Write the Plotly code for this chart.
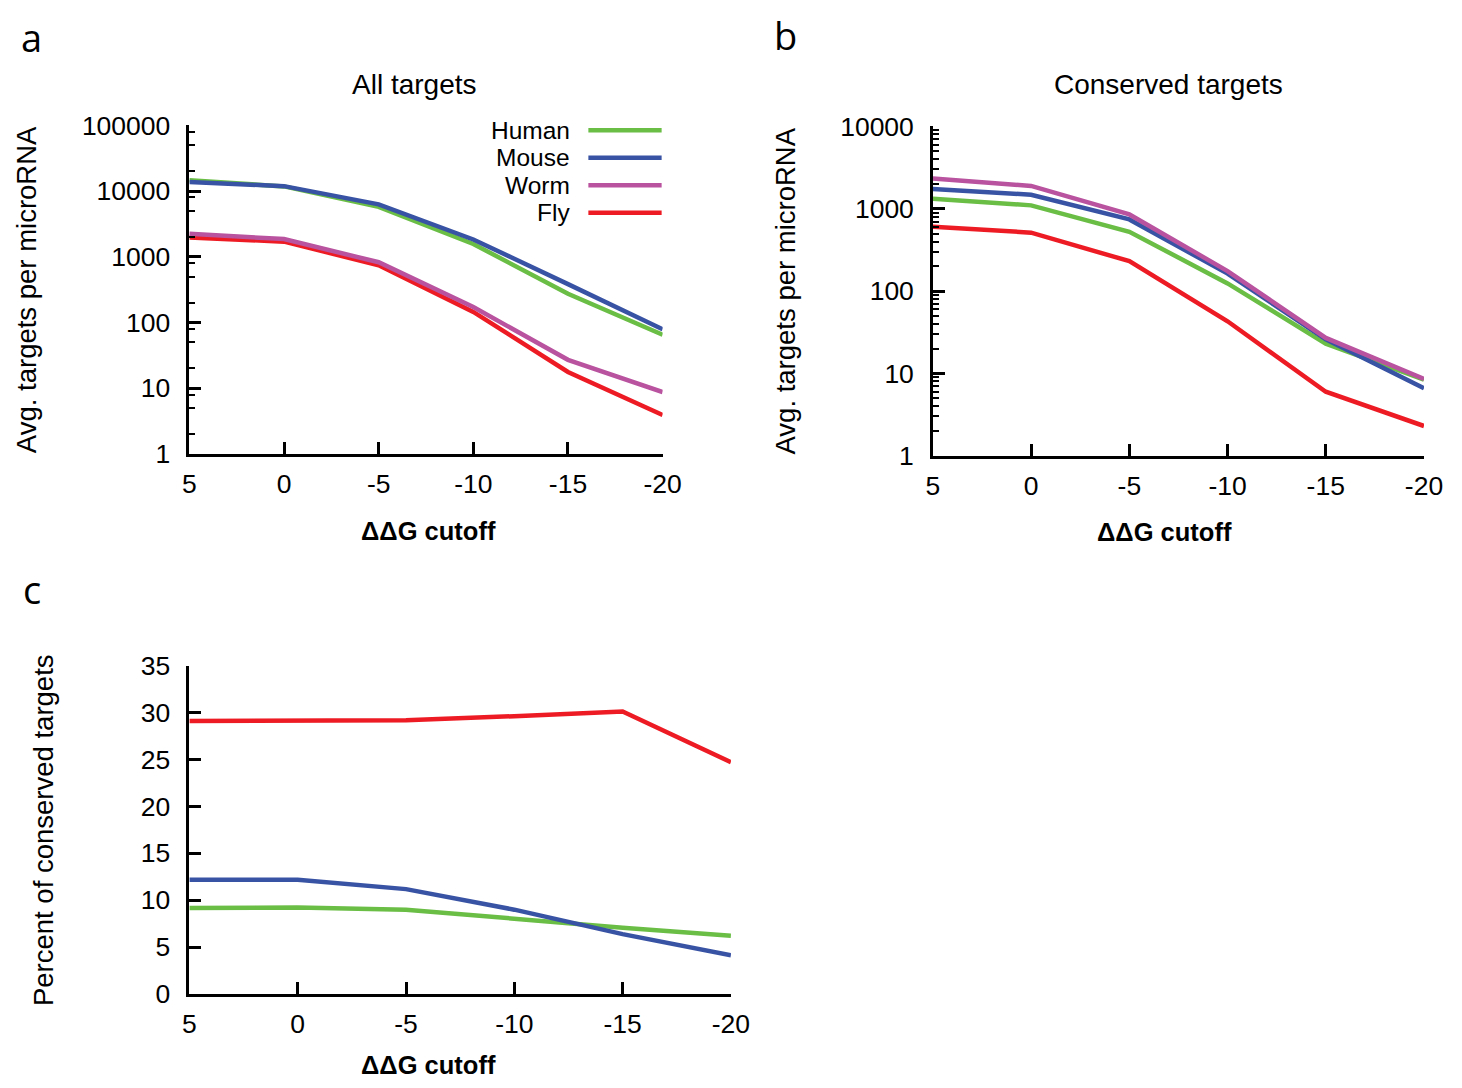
import plotly.graph_objects as go

# ---------------- data ----------------
cutoffs = [5, 0, -5, -10, -15, -20]
cutoff_labels = ["5", "0", "-5", "-10", "-15", "-20"]
species = ["Human", "Mouse", "Worm", "Fly"]
colors = {"Human": "#6abd45", "Mouse": "#3953a4", "Worm": "#b9529f", "Fly": "#ed1c24"}

# panel a: all targets (avg targets per microRNA)
all_human = [14700, 11800, 5760, 1570, 273, 65]
all_mouse = [13800, 11900, 6300, 1835, 384, 79]
all_worm = [2250, 1860, 826, 172, 27, 8.7]
all_fly = [1964, 1700, 745, 145, 17.6, 3.9]

# panel b: conserved targets
cons_human = [1325, 1100, 526, 124, 23, 8.4]
cons_mouse = [1740, 1480, 742, 163, 26, 6.6]
cons_worm = [2335, 1893, 853, 175, 27, 8.6]
cons_fly = [606, 513, 231, 43, 6.0, 2.3]

# panel c: percent of conserved targets
pct_fly = [29.1, 29.1, 29.16, 29.6, 30.1, 24.7]
pct_mouse = [12.18, 12.18, 11.17, 8.98, 6.37, 4.11]
pct_human = [9.15, 9.22, 8.98, 8.0, 7.06, 6.19]

log_a_major = [1, 10, 100, 1000, 10000, 100000]
log_a_major_text = ["1", "10", "100", "1000", "10000", "100000"]
log_b_major = [1, 10, 100, 1000, 10000]
log_b_major_text = ["1", "10", "100", "1000", "10000"]
pct_ticks = [0, 5, 10, 15, 20, 25, 30, 35]

# ---------------- layout helpers ----------------
W, H = 1462, 1088
FONT = "Liberation Sans, Arial, Helvetica, sans-serif"
LETTER_FONT = "Open Sans, Noto Sans, sans-serif"
K = 0.008  # slight expansion about the centre


def px(x):
    return x + K * (x - W / 2)


def py(y):
    return y + K * (y - H / 2)


def fx(x):
    return px(x) / W


def fy(y):
    return 1 - py(y) / H


fig = go.Figure()

panel_a = {"Human": all_human, "Mouse": all_mouse, "Worm": all_worm, "Fly": all_fly}
panel_b = {"Human": cons_human, "Mouse": cons_mouse, "Worm": cons_worm, "Fly": cons_fly}
panel_c = {"Fly": pct_fly, "Mouse": pct_mouse, "Human": pct_human}

LW = 4.5
for name in ["Fly", "Worm", "Human", "Mouse"]:
    fig.add_trace(go.Scatter(x=cutoffs, y=panel_a[name], mode="lines",
                             line=dict(color=colors[name], width=LW),
                             xaxis="x", yaxis="y", showlegend=False, name=name))
for name in ["Fly", "Human", "Mouse", "Worm"]:
    fig.add_trace(go.Scatter(x=cutoffs, y=panel_b[name], mode="lines",
                             line=dict(color=colors[name], width=LW),
                             xaxis="x2", yaxis="y2", showlegend=False, name=name))
for name in ["Fly", "Human", "Mouse"]:
    fig.add_trace(go.Scatter(x=cutoffs, y=panel_c[name], mode="lines",
                             line=dict(color=colors[name], width=LW),
                             xaxis="x3", yaxis="y3", showlegend=False, name=name))


def minor_vals(major, digits):
    out = []
    for m in major[:-1]:
        for d in digits:
            out.append(m * d)
    return out


tickfont = dict(family=FONT, size=26.5, color="black")
common_x = dict(range=[5, -20], tickmode="array", tickvals=cutoffs, ticktext=cutoff_labels,
                ticks="inside", ticklen=12, tickwidth=2.5, tickcolor="black",
                showline=True, linecolor="black", linewidth=2.5, showgrid=False,
                zeroline=False, tickfont=tickfont, ticklabelstandoff=5)
common_y = dict(ticks="inside", ticklen=12, tickwidth=2.5, tickcolor="black",
                showline=True, linecolor="black", linewidth=2.5, showgrid=False,
                zeroline=False, tickfont=tickfont, ticklabelstandoff=11)

fig.update_layout(
    width=W, height=H,
    margin=dict(l=0, r=0, t=0, b=0),
    paper_bgcolor="white", plot_bgcolor="white",
    font=dict(family=FONT, color="black"),
    xaxis=dict(domain=[fx(190), fx(668)], anchor="y", **common_x),
    yaxis=dict(domain=[fy(452), fy(117)], anchor="x", type="log", range=[0, 5],
               tickmode="array", tickvals=log_a_major, ticktext=log_a_major_text,
               minor=dict(tickmode="array", tickvals=minor_vals(log_a_major, [2, 5, 8]),
                          ticks="inside", ticklen=6, tickwidth=2, tickcolor="black",
                          showgrid=False),
               **common_y),
    xaxis2=dict(domain=[fx(941), fx(1437)], anchor="y2", **common_x),
    yaxis2=dict(domain=[fy(454), fy(118)], anchor="x2", type="log", range=[0, 4],
                tickmode="array", tickvals=log_b_major, ticktext=log_b_major_text,
                minor=dict(tickmode="array",
                           tickvals=minor_vals(log_b_major, [2, 3, 4, 5, 6, 7, 8, 9]),
                           ticks="inside", ticklen=6, tickwidth=2, tickcolor="black",
                           showgrid=False),
                **common_y),
    xaxis3=dict(domain=[fx(190), fx(737)], anchor="y3", **common_x),
    yaxis3=dict(domain=[fy(1003), fy(668)], anchor="x3", range=[0, 35],
                tickmode="array", tickvals=pct_ticks, **common_y),
)

ann = []


def text(x, y, s, size=27, bold=False, xanchor="center", angle=0, family=FONT):
    if bold:
        s = "<b>" + s + "</b>"
    ann.append(dict(x=fx(x), y=fy(y), xref="paper", yref="paper", text=s, showarrow=False,
                    xanchor=xanchor, yanchor="middle", textangle=angle,
                    font=dict(family=family, size=size, color="black")))


# panel letters
text(31, 27, "a", size=38, family=LETTER_FONT)
text(792, 25, "b", size=38, family=LETTER_FONT)
text(31, 590, "c", size=38, family=LETTER_FONT)
# titles
text(417, 75, "All targets", size=28)
text(1179, 75, "Conserved targets", size=28)
# axis titles
text(432, 531, "ΔΔG cutoff", size=25.5, bold=True)
text(1175, 532, "ΔΔG cutoff", size=25.5, bold=True)
text(432, 1076, "ΔΔG cutoff", size=25.5, bold=True)
text(25, 285, "Avg. targets per microRNA", size=27.5, angle=-90)
text(792, 286, "Avg. targets per microRNA", size=27.5, angle=-90)
text(42, 836, "Percent of conserved targets", size=27.5, angle=-90)

# legend (text on the left, line sample on the right)
shapes = []
leg_y = [122, 150, 178, 206]
for name, yy in zip(species, leg_y):
    text(576, yy, name, size=24.5, xanchor="right")
    shapes.append(dict(type="line", xref="paper", yref="paper",
                       x0=fx(593), x1=fx(667), y0=fy(yy), y1=fy(yy),
                       line=dict(color=colors[name], width=LW)))

fig.update_layout(annotations=ann, shapes=shapes)

fig.write_html("out.html",
               config={"displayModeBar": False},
               post_script="document.body.style.margin='0px';"
                           "document.body.style.overflow='hidden';")
